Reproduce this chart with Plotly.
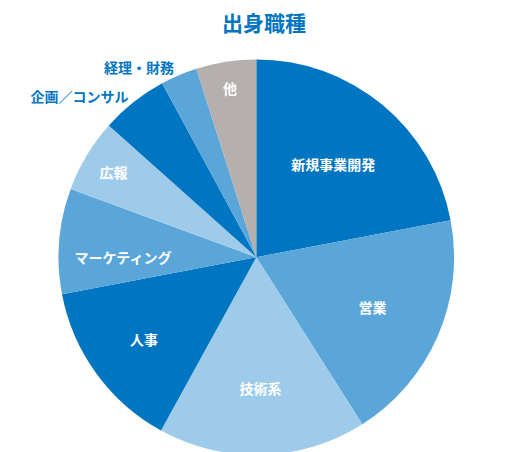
import plotly.graph_objects as go

labels = ["新規事業開発", "営業", "技術系", "人事", "マーケティング", "広報", "企画／コンサル", "経理・財務", "他"]
values = [22, 19, 17, 14, 8.6, 6, 5.5, 3, 4.9]
colors = ["#0075c1", "#5ba6d8", "#9ecbe9", "#0075c1", "#5ba6d8", "#9ecbe9", "#0075c1", "#5ba6d8", "#b5b0ae"]
positions = ["inside"] * 6 + ["outside", "outside", "inside"]
font_colors = ["white"] * 6 + ["#0075c1", "#0075c1", "white"]

fig = go.Figure(go.Pie(
    labels=labels, values=values, sort=False, direction="clockwise", rotation=0,
    marker=dict(colors=colors, line=dict(width=0)),
    textinfo="label", textposition=positions,
    texttemplate="<b>%{label}</b>",
    insidetextorientation="horizontal",
    textfont=dict(family="Noto Sans CJK JP", size=14, color=font_colors),
    hoverinfo="label+percent",
    domain=dict(x=[0.095, 0.875], y=[0.0, 0.885]),
    showlegend=False,
))
fig.update_layout(
    width=512, height=452, margin=dict(l=0, r=0, t=0, b=0),
    paper_bgcolor="white",
    title=dict(text="<b>出身職種</b>", x=0.5, y=0.965, xanchor="center", yanchor="middle",
               font=dict(family="Noto Sans CJK JP", size=21, color="#0075c1")),
    uniformtext=dict(minsize=12, mode="show"),
)
fig.write_html("out.html")
